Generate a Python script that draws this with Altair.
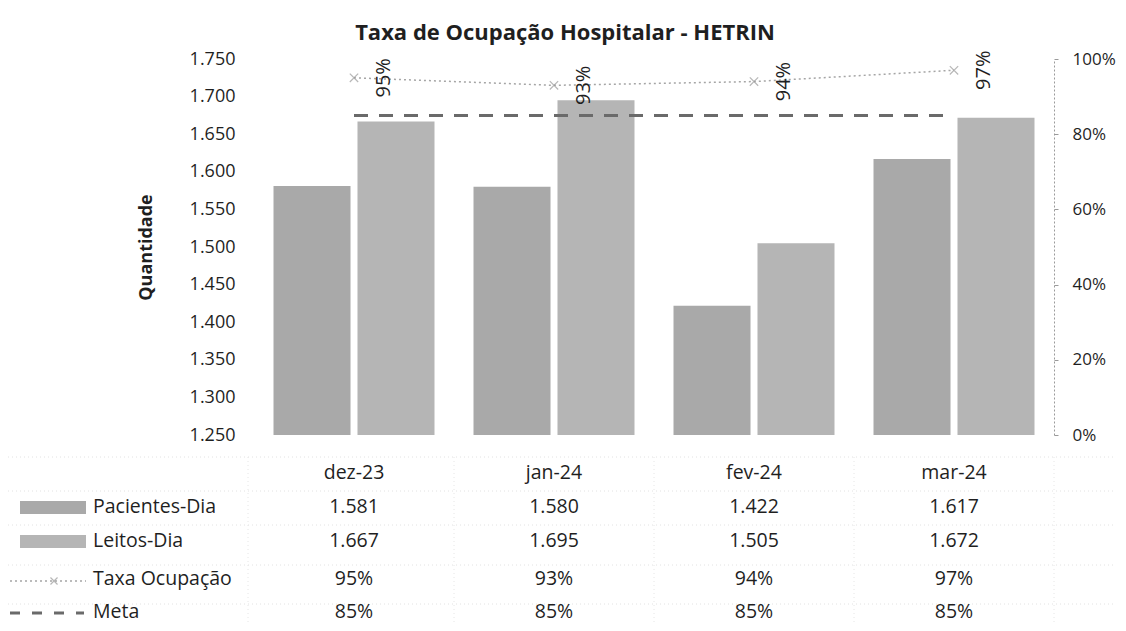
import altair as alt
import pandas as pd

# ---------------- data ----------------
months = ["dez-23", "jan-24", "fev-24", "mar-24"]
series_bars = ["Pacientes-Dia", "Leitos-Dia"]
pacientes = [1581, 1580, 1422, 1617]
leitos = [1667, 1695, 1505, 1672]
taxa = [0.95, 0.93, 0.94, 0.97]
meta = [0.85, 0.85, 0.85, 0.85]
left_ticks = [1250, 1300, 1350, 1400, 1450, 1500, 1550, 1600, 1650, 1700, 1750]
right_ticks = [0.0, 0.2, 0.4, 0.6, 0.8, 1.0]

FONT = "Open Sans"
FS = 18
FS_TAB = 19.5
TXT = "#1f1f1f"
W, H = 800, 376

def fmt_int(v):
    return f"{v:,}".replace(",", ".")

def fmt_pct(v):
    return f"{round(v * 100)}%"

df_bars = pd.DataFrame(
    [{"mes": m, "serie": "Pacientes-Dia", "valor": v} for m, v in zip(months, pacientes)]
    + [{"mes": m, "serie": "Leitos-Dia", "valor": v} for m, v in zip(months, leitos)]
)
df_taxa = pd.DataFrame({"mes": months, "valor": taxa, "rotulo": [fmt_pct(v) for v in taxa]})
df_meta = pd.DataFrame({"mes": months, "valor": meta})

x_enc = alt.X(
    "mes:N",
    sort=months,
    scale=alt.Scale(domain=months, paddingInner=0.195, paddingOuter=0.0975),
    axis=None,
)

# ---------------- bars (left axis) ----------------
bars = alt.Chart(df_bars).mark_bar().encode(
    x=x_enc,
    xOffset=alt.XOffset(
        "serie:N", sort=series_bars,
        scale=alt.Scale(domain=series_bars, paddingInner=0.083, paddingOuter=0),
    ),
    y=alt.Y(
        "valor:Q",
        scale=alt.Scale(domain=[1250, 1750], zero=False, nice=False),
        axis=alt.Axis(
            orient="left", values=left_ticks, domain=False, ticks=False, grid=False,
            labelExpr="replace(format(datum.value, ','), ',', '.')",
            labelFont=FONT, labelFontSize=FS, labelColor=TXT, labelPadding=19,
            title="Quantidade", titleFont=FONT, titleFontSize=FS, titleFontWeight="bold",
            titleColor=TXT, titlePadding=34,
        ),
    ),
    y2=alt.datum(1250),
    color=alt.Color(
        "serie:N",
        scale=alt.Scale(domain=series_bars, range=["#a9a9a9", "#b5b5b5"]),
        legend=None,
    ),
)

# ---------------- percent layers (right axis) ----------------
pct_axis = alt.Axis(
    orient="right", values=right_ticks, format="%", grid=False,
    domainColor="#9a9a9a", domainDash=[2, 2], domainWidth=1,
    tickColor="#9a9a9a", tickSize=4, labelPadding=14,
    labelFont=FONT, labelFontSize=17, labelColor=TXT, title=None,
)
y_pct = alt.Y("valor:Q", scale=alt.Scale(domain=[0, 1], nice=False), axis=pct_axis)

meta_line = alt.Chart(df_meta).mark_line(
    color="#6a6a6a", strokeDash=[14, 11], strokeWidth=3
).encode(x=x_enc, y=y_pct)

taxa_line = alt.Chart(df_taxa).mark_line(
    color="#a5a5a5", strokeDash=[2, 3], strokeWidth=1.5
).encode(x=x_enc, y=y_pct)

taxa_pts = alt.Chart(df_taxa).mark_point(
    shape="M-1,-1L1,1M-1,1L1,-1", size=70, color="#9a9a9a", strokeWidth=1.2, filled=False
).encode(x=x_enc, y=y_pct)

taxa_lbl = alt.Chart(df_taxa).mark_text(
    angle=270, align="center", baseline="middle", dy=30,
    font=FONT, fontSize=20, color=TXT,
).encode(x=x_enc, y=y_pct, text="rotulo:N")

pct_layer = alt.layer(meta_line, taxa_line, taxa_pts, taxa_lbl)

# ---------------- data table below ----------------
table_rows = [
    ("Pacientes-Dia", [fmt_int(v) for v in pacientes], 448),
    ("Leitos-Dia", [fmt_int(v) for v in leitos], 482),
    ("Taxa Ocupação", [fmt_pct(v) for v in taxa], 520),
    ("Meta", [fmt_pct(v) for v in meta], 553),
]
HEADER_Y = 414

table_layers = []
hdr = pd.DataFrame({"mes": months})
table_layers.append(
    alt.Chart(hdr).mark_text(font=FONT, fontSize=FS_TAB, color=TXT, baseline="middle").encode(
        x=x_enc, y=alt.value(HEADER_Y), text="mes:N"
    )
)
for name, texts, ry in table_rows:
    d = pd.DataFrame({"mes": months, "texto": texts})
    table_layers.append(
        alt.Chart(d).mark_text(font=FONT, fontSize=FS_TAB, color=TXT, baseline="middle").encode(
            x=x_enc, y=alt.value(ry), text="texto:N"
        )
    )
    table_layers.append(
        alt.Chart(pd.DataFrame({"r": [name]})).mark_text(
            font=FONT, fontSize=FS_TAB, color=TXT, align="left", baseline="middle"
        ).encode(x=alt.value(-161), y=alt.value(ry), text="r:N")
    )

one = pd.DataFrame({"a": [0]})
# legend keys inside the table
key_pac = alt.Chart(one).mark_rect(color="#a9a9a9").encode(
    x=alt.value(-234), x2=alt.value(-168), y=alt.value(442), y2=alt.value(455))
key_lei = alt.Chart(one).mark_rect(color="#b5b5b5").encode(
    x=alt.value(-234), x2=alt.value(-168), y=alt.value(476), y2=alt.value(489))
key_taxa = alt.Chart(one).mark_rule(color="#a5a5a5", strokeDash=[2, 3], strokeWidth=1.5).encode(
    x=alt.value(-244), x2=alt.value(-168), y=alt.value(522))
key_taxa_pt = alt.Chart(one).mark_point(
    shape="M-1,-1L1,1M-1,1L1,-1", size=50, color="#9a9a9a", strokeWidth=1.2, filled=False
).encode(x=alt.value(-200), y=alt.value(522))
key_meta = alt.Chart(one).mark_rule(color="#6a6a6a", strokeDash=[10, 12], strokeWidth=3).encode(
    x=alt.value(-244), x2=alt.value(-170), y=alt.value(554))

# faint table grid
grid_h = [398, 432, 466, 506, 545]
grid_layers = [
    alt.Chart(one).mark_rule(color="#e2e2e2", strokeDash=[1, 3], strokeWidth=1).encode(
        x=alt.value(-246), x2=alt.value(W + 60), y=alt.value(gy))
    for gy in grid_h
]
grid_v = [-6, 200, 400, 600, 800]
grid_layers += [
    alt.Chart(one).mark_rule(color="#e6e6e6", strokeDash=[1, 3], strokeWidth=1).encode(
        x=alt.value(gx), y=alt.value(398), y2=alt.value(570))
    for gx in grid_v
]

chart = alt.layer(
    *grid_layers, bars, pct_layer, *table_layers,
    key_pac, key_lei, key_taxa, key_taxa_pt, key_meta,
).resolve_scale(y="independent").properties(
    width=W, height=H,
    autosize=alt.AutoSizeParams(type="none"),
    padding={"left": 246, "top": 51, "right": 64, "bottom": 188},
    title=alt.TitleParams(
        "Taxa de Ocupação Hospitalar - HETRIN", font=FONT, fontSize=22,
        fontWeight="bold", color=TXT, anchor="middle", dx=-89, offset=5,
    ),
).configure(background="white").configure_view(stroke=None)

chart.save("out.html", embed_options={"renderer": "svg", "actions": False})
